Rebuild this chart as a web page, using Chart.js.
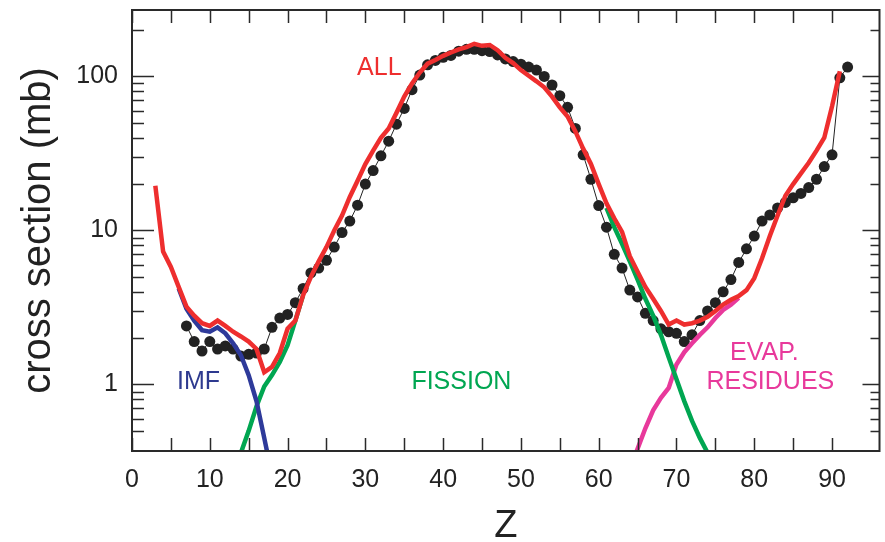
<!DOCTYPE html>
<html><head><meta charset="utf-8">
<script src="https://cdn.jsdelivr.net/npm/chart.js@4/dist/chart.umd.min.js"></script>
<style>html,body{margin:0;padding:0;background:#fff;overflow:hidden}</style>
</head><body>
<canvas id="c" width="885" height="542"></canvas>
<script>
// Experimental data (black points)
const dataZ = [7,8,9,10,11,12,13,14,15,16,17,18,19,20,21,22,23,24,25,26,27,28,29,30,31,32,33,34,35,36,37,38,39,40,41,42,43,44,45,46,47,48,49,50,51,52,53,54,55,56,57,58,59,60,61,62,63,64,65,66,67,68,69,70,71,72,73,74,75,76,77,78,79,80,81,82,83,84,85,86,87,88,89,90,91,92];
const dataSigma = [2.4,1.9,1.65,1.9,1.7,1.78,1.7,1.53,1.57,1.6,1.7,2.35,2.7,2.85,3.4,4.2,5.3,5.7,6.4,7.8,9.7,11.5,14.6,20,24.5,30.5,38,49,62,82,102,119,127,133,137,146,150,150,147,145,138,130,125,120,115,110,100,88,75,63,46,31,21.5,14.5,10.5,7.0,5.7,4.1,3.7,2.9,2.6,2.3,2.2,2.15,1.9,2.1,2.6,3.0,3.4,4.0,4.8,6.2,7.6,9.2,11.5,12.6,14,15.2,16.3,17.4,19,21.5,26,31,98,115];
// Calculation: ALL
const allZ = [3,4,5,6,7,8,9,10,11,12,13,14,15,16,17,18,19,20,21,22,23,24,25,26,27,28,29,30,31,32,33,34,35,36,37,38,39,40,41,42,43,44,45,46,47,48,49,50,51,52,53,54,55,56,57,58,59,60,61,62,63,64,65,66,67,68,69,70,71,72,73,74,75,76,77,78,79,80,81,82,83,84,85,86,87,88,89,90,91];
const allSigma = [19.5,7.3,5.8,4.3,3.2,2.8,2.5,2.4,2.6,2.4,2.2,2.05,1.9,1.7,1.2,1.3,1.6,2.3,2.6,3.8,5.0,6.3,7.8,10,12.5,16.5,21,27,33,40,46,58,74,90,106,121,128,136,143,150,155,163,158,160,148,132,122,110,101,93,85,74,63,55,44,34,27,20,15,12,9.8,6.8,5.4,4.3,3.6,3.0,2.45,2.6,2.45,2.5,2.6,2.75,3.0,3.3,3.55,3.75,4.1,4.9,6.6,9.2,12.5,16.8,20,23.5,27.5,33,40,64,108];
// IMF component
const imfZ = [6,7,8,9,10,11,12,13,14,15,16,17,17.5];
const imfSigma = [4.2,3.1,2.6,2.25,2.2,2.35,2.15,1.85,1.55,1.15,0.78,0.45,0.34];
// Fission component (visible parts)
const fisLeftZ = [14,15,16,17,18,19,20,21,22];
const fisLeftSigma = [0.36,0.5,0.72,0.97,1.15,1.4,1.8,2.6,3.8];
const fisRightZ = [61,62,63,64,65,66,67,68,69,70,71,72,73,74,74.5];
const fisRightSigma = [14,10.5,8.2,6.3,4.8,3.6,2.8,2.1,1.5,1.08,0.78,0.58,0.45,0.36,0.32];
// Evaporation residues component
const evapZ = [64.8,66,67,68,69,70,71,72,73,74,75,76,77,78];
const evapSigma = [0.36,0.52,0.68,0.82,0.95,1.35,1.62,1.85,2.1,2.35,2.7,3.05,3.3,3.65];
// Tick labels
const xTickLabels = [0,10,20,30,40,50,60,70,80,90];
const yTickLabels = [1,10,100];

const pts = (xs, ys) => xs.map((z, i) => ({x: z, y: ys[i]}));
const FONT = "'Liberation Sans', Arial, sans-serif";

const framePlugin = {
  id: 'frame',
  afterDatasetsDraw(chart) {
    const {ctx, chartArea: a, scales: {x, y}} = chart;
    ctx.save();
    ctx.strokeStyle = '#2a2a2a';
    ctx.lineWidth = 1.5;
    ctx.beginPath();
    x.ticks.forEach(t => {
      const q = t.value / 5;
      if (Math.abs(q - Math.round(q)) > 1e-6) return;
      const px = Math.round(x.getPixelForValue(t.value)) + 0.5;
      ctx.moveTo(px, a.bottom); ctx.lineTo(px, a.bottom - 13);
      ctx.moveTo(px, a.top); ctx.lineTo(px, a.top + 13);
    });
    y.ticks.forEach(t => {
      const e = Math.floor(Math.log10(t.value) + 1e-9);
      const m = t.value / Math.pow(10, e);
      if (Math.abs(m - Math.round(m)) > 1e-6) return;
      const major = Math.round(m) === 1 || Math.round(m) === 10;
      const py = Math.round(y.getPixelForValue(t.value)) + 0.5;
      ctx.moveTo(a.left, py); ctx.lineTo(a.left + (major ? 22 : 12), py);
      ctx.moveTo(a.right, py); ctx.lineTo(a.right - (major ? 17 : 9), py);
    });
    ctx.stroke();
    ctx.lineWidth = 2;
    ctx.strokeRect(a.left, a.top, a.right - a.left, a.bottom - a.top);
    // annotations
    ctx.font = '25px ' + FONT;
    ctx.textAlign = 'center';
    ctx.textBaseline = 'middle';
    const lab = (txt, z, s, col) => {
      ctx.fillStyle = col;
      ctx.fillText(txt, x.getPixelForValue(z), y.getPixelForValue(s));
    };
    lab('ALL', 31.8, 113, '#ee2e2e');
    lab('IMF', 8.55, 1.03, '#2e3a8f');
    lab('FISSION', 42.35, 1.03, '#00a651');
    lab('EVAP.', 81.3, 1.61, '#e8399b');
    lab('RESIDUES', 82.07, 1.03, '#e8399b');
    ctx.restore();
  }
};

new Chart(document.getElementById('c'), {
  type: 'scatter',
  data: {
    datasets: [
      {label: 'ALL', data: pts(allZ, allSigma), showLine: true, borderColor: '#ee2e2e', borderWidth: 4.5, pointRadius: 0, tension: 0},
      {label: 'IMF', data: pts(imfZ, imfSigma), showLine: true, borderColor: '#2e3a9a', borderWidth: 4.5, pointRadius: 0, tension: 0},
      {label: 'FISSION L', data: pts(fisLeftZ, fisLeftSigma), showLine: true, borderColor: '#00a651', borderWidth: 4.5, pointRadius: 0, tension: 0},
      {label: 'FISSION R', data: pts(fisRightZ, fisRightSigma), showLine: true, borderColor: '#00a651', borderWidth: 4.5, pointRadius: 0, tension: 0},
      {label: 'EVAP', data: pts(evapZ, evapSigma), showLine: true, borderColor: '#e8399b', borderWidth: 4.5, pointRadius: 0, tension: 0},
      {label: 'data', data: pts(dataZ, dataSigma), showLine: true, borderColor: '#222', borderWidth: 1, pointRadius: 5.5, pointBackgroundColor: '#222', pointBorderColor: '#222', pointBorderWidth: 0, tension: 0}
    ]
  },
  options: {
    responsive: false,
    devicePixelRatio: 1,
    animation: false,
    events: [],
    layout: {padding: {top: 10, right: 5, left: 0, bottom: 0}},
    plugins: {legend: {display: false}, tooltip: {enabled: false}},
    scales: {
      x: {
        type: 'linear', min: 0, max: 96.1,
        grid: {display: false, drawTicks: false},
        border: {display: false},
        ticks: {
          stepSize: 5, autoSkip: false, maxRotation: 0, padding: 14,
          color: '#222', font: {family: FONT, size: 25},
          callback: v => xTickLabels.includes(v) ? String(v) : ''
        },
        title: {display: true, text: 'Z', color: '#222', font: {family: FONT, size: 38, lineHeight: 0.79}, padding: 0},
        afterFit: s => { s.height = 91; s.paddingLeft = 0; s.paddingRight = 0; }
      },
      y: {
        type: 'logarithmic', min: 0.37, max: 270,
        grid: {display: false, drawTicks: false},
        border: {display: false},
        ticks: {
          autoSkip: false, padding: 14,
          color: '#222', font: {family: FONT, size: 25},
          callback: v => yTickLabels.includes(v) ? String(v) : ''
        },
        title: {display: true, text: 'cross section (mb)', color: '#222', font: {family: FONT, size: 40, lineHeight: 1.2}, padding: {top: 15, bottom: 0}},
        afterFit: s => { s.width = 132; s.paddingTop = 0; s.paddingBottom = 0; }
      }
    }
  },
  plugins: [framePlugin]
});
</script>
</body></html>
